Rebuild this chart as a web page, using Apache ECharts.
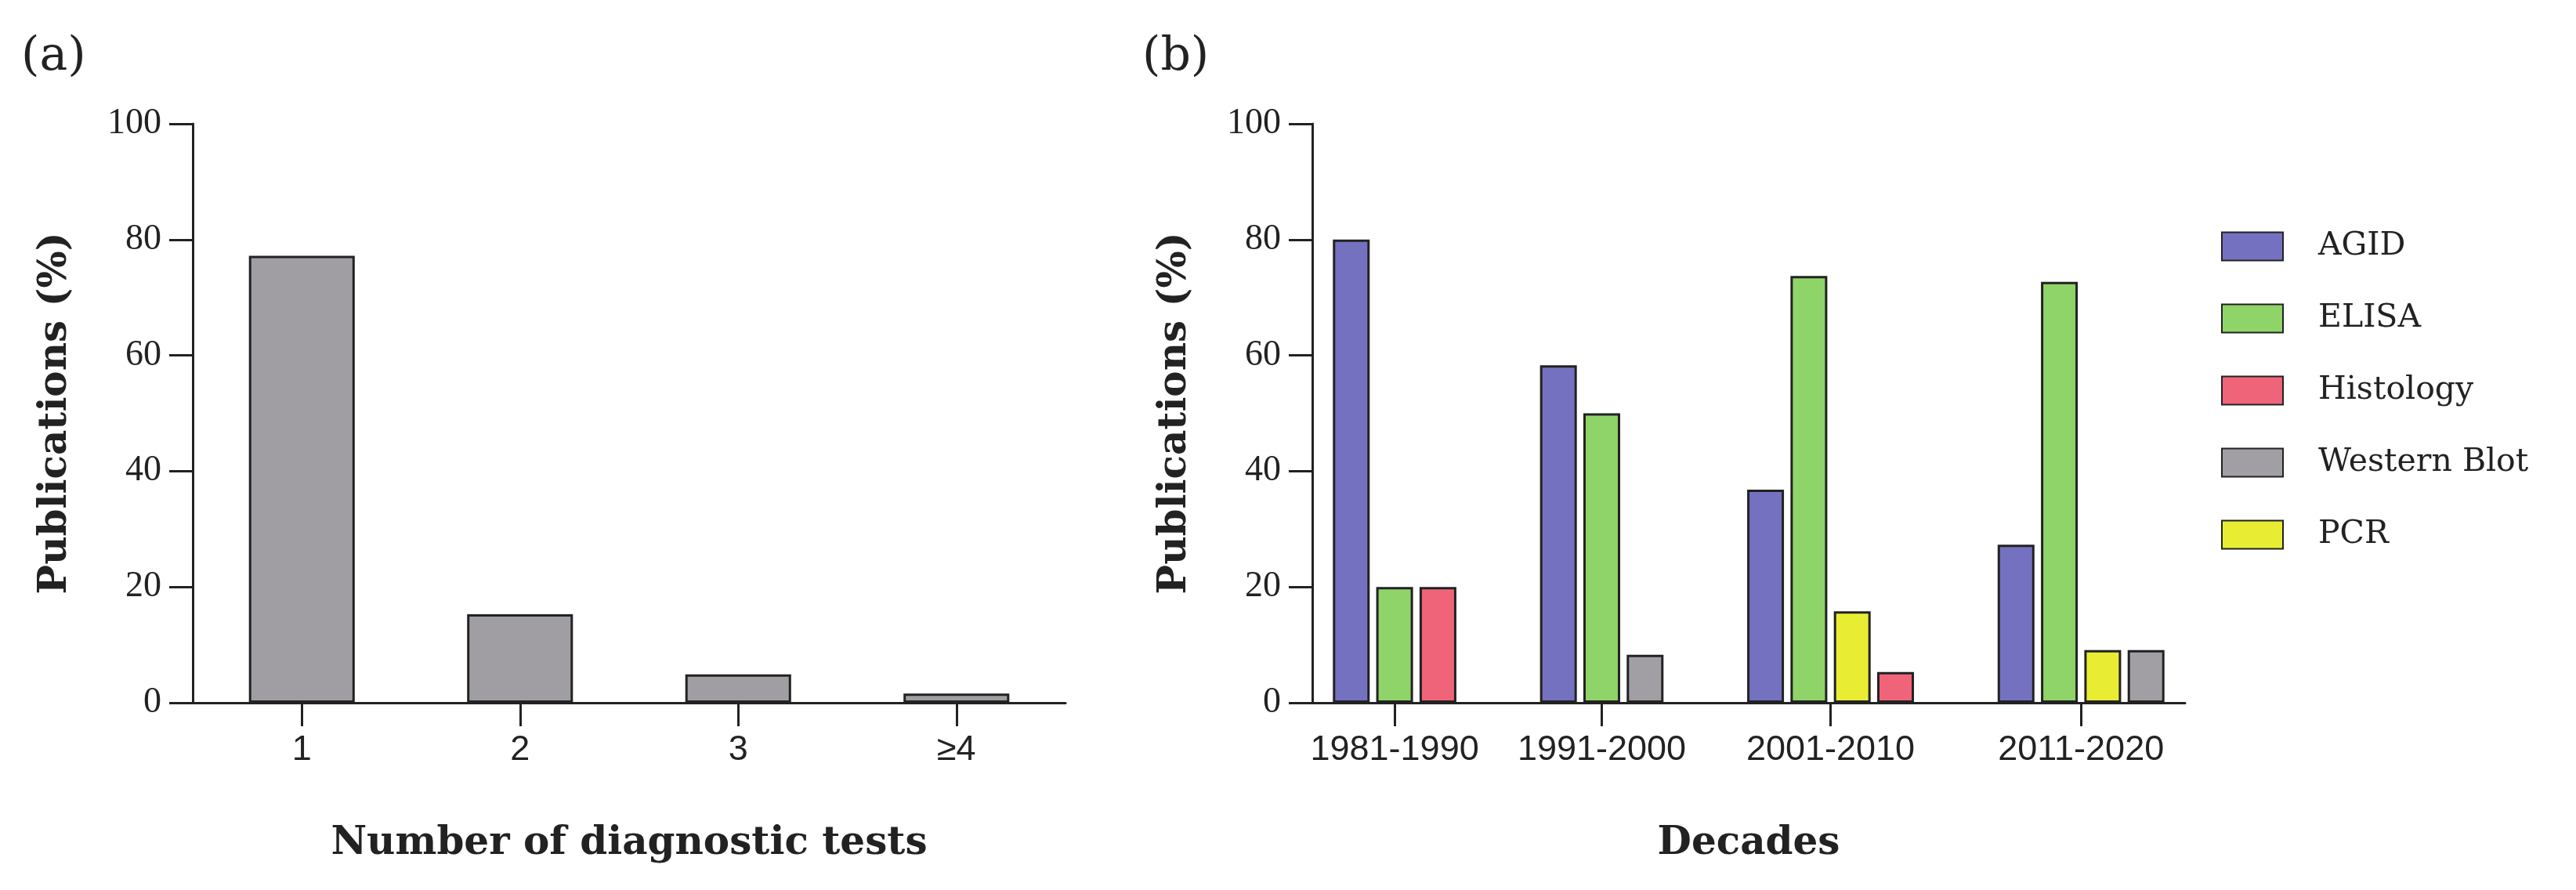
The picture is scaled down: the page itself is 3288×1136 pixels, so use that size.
<!DOCTYPE html>
<html>
<head>
<meta charset="utf-8">
<script src="https://cdn.jsdelivr.net/npm/echarts@6/dist/echarts.min.js"></script>
<style>
  html, body { margin: 0; padding: 0; background: #fff; }
  #chart { width: 3288px; height: 1136px; }
</style>
</head>
<body>
<div id="chart"></div>
<script>
// (a) share of publications by number of diagnostic tests used
const TEST_COUNTS = ["1", "2", "3", "≥4"];
const TEST_SHARE = [77.2, 15.3, 4.9, 1.6];

// (b) diagnostic method per decade, % of publications
const DECADES = ["1981-1990", "1991-2000", "2001-2010", "2011-2020"];
const METHODS = ["AGID", "ELISA", "Histology", "Western Blot", "PCR"];
const AGID = [80, 58.3, 36.8, 27.3];
const ELISA = [20, 50, 73.7, 72.7];
const HISTOLOGY = [20, 0, 5.3, 0];
const WESTERN_BLOT = [0, 8.3, 0, 9.1];
const PCR = [0, 0, 15.8, 9.1];

// order the bars are printed in inside each decade (empty ones left out)
const BAR_ORDER = [
  ["AGID", "ELISA", "Histology"],
  ["AGID", "ELISA", "Western Blot"],
  ["AGID", "ELISA", "PCR", "Histology"],
  ["AGID", "ELISA", "PCR", "Western Blot"],
];

const METHOD_VALUES = {
  "AGID": AGID,
  "ELISA": ELISA,
  "Histology": HISTOLOGY,
  "Western Blot": WESTERN_BLOT,
  "PCR": PCR,
};

const COLOR = {
  "AGID": "#7571c1",
  "ELISA": "#8fd468",
  "Histology": "#f0647a",
  "Western Blot": "#a19fa4",
  "PCR": "#e8ed33",
};

const INK = "#222";
const SERIF = "DejaVu Serif";
const GROUP_GAP = 1.78;   // extra empty slots between decade groups
const SIDE_PAD = 0.9;     // slots between axis ends and outer bars

// slot index of every bar along the (b) axis
const slot = {};
METHODS.forEach(m => { slot[m] = []; });
const groupCenter = [];
let cursor = 0;
let lastCenter = 0;
BAR_ORDER.forEach((names, d) => {
  names.forEach((m, i) => { slot[m][d] = cursor + i; });
  groupCenter.push(cursor + (names.length - 1) / 2);
  lastCenter = cursor + names.length - 1;
  cursor += names.length + GROUP_GAP;
});

function decadeLabel(value) {
  let best = 0;
  groupCenter.forEach((c, i) => {
    if (Math.abs(c - value) < Math.abs(groupCenter[best] - value)) best = i;
  });
  return DECADES[best];
}

function yAxisFor(gridIndex) {
  return {
    gridIndex,
    type: "value",
    min: 0,
    max: 100,
    interval: 20,
    name: "Publications (%)",
    nameLocation: "middle",
    nameGap: 150,
    nameTextStyle: { fontFamily: SERIF, fontWeight: "bold", fontSize: 50, color: INK },
    axisLine: { show: true, onZero: false, lineStyle: { color: INK, width: 3 } },
    axisTick: { show: true, length: 30, lineStyle: { color: INK, width: 3 } },
    axisLabel: {
      margin: 40,
      fontFamily: "Liberation Serif",
      fontSize: 46,
      color: INK,
    },
    splitLine: { show: false },
  };
}

const chart = echarts.init(document.getElementById("chart"));

const methodSeries = METHODS.map(m => ({
  name: m,
  type: "bar",
  xAxisIndex: 1,
  yAxisIndex: 1,
  barWidth: 47,
  barGap: "-100%",
  itemStyle: { color: COLOR[m], borderColor: INK, borderWidth: 3 },
  data: DECADES
    .map((d, i) => (METHOD_VALUES[m][i] > 0 ? [slot[m][i], METHOD_VALUES[m][i]] : null))
    .filter(Boolean),
}));

const panelTitle = { fontFamily: SERIF, fontWeight: "normal", fontSize: 60, color: INK };

chart.setOption({
  animation: false,
  backgroundColor: "#fff",
  title: [
    { text: "(a)", left: 22, top: 38, textStyle: panelTitle },
    { text: "(b)", left: 1453, top: 38, textStyle: panelTitle },
  ],
  legend: {
    data: METHODS,
    orient: "vertical",
    left: 2830,
    top: 289,
    itemWidth: 78,
    itemHeight: 36,
    itemGap: 51,
    icon: "rect",
    textStyle: { fontFamily: SERIF, fontSize: 41, color: INK, padding: [0, 0, 0, 40] },
  },
  grid: [
    { left: 246, top: 158, width: 1114, height: 739 },
    { left: 1675, top: 158, width: 1114, height: 739 },
  ],
  xAxis: [
    {
      gridIndex: 0,
      type: "category",
      data: TEST_COUNTS,
      name: "Number of diagnostic tests",
      nameLocation: "middle",
      nameGap: 155,
      nameTextStyle: { fontFamily: SERIF, fontWeight: "bold", fontSize: 50, color: INK },
      axisLine: { show: true, lineStyle: { color: INK, width: 3 } },
      axisTick: { show: true, alignWithLabel: true, length: 30, lineStyle: { color: INK, width: 3 } },
      axisLabel: { margin: 38, fontFamily: "Liberation Sans", fontSize: 45, color: INK },
    },
    {
      gridIndex: 1,
      type: "value",
      min: -SIDE_PAD,
      max: lastCenter + SIDE_PAD,
      name: "Decades",
      nameLocation: "middle",
      nameGap: 155,
      nameTextStyle: { fontFamily: SERIF, fontWeight: "bold", fontSize: 50, color: INK },
      axisLine: { show: true, onZero: false, lineStyle: { color: INK, width: 3 } },
      axisTick: { show: true, length: 30, customValues: groupCenter, lineStyle: { color: INK, width: 3 } },
      axisLabel: {
        margin: 38,
        customValues: groupCenter,
        formatter: v => decadeLabel(v),
        fontFamily: "Liberation Sans",
        fontSize: 45,
        color: INK,
      },
      splitLine: { show: false },
    },
  ],
  yAxis: [yAxisFor(0), yAxisFor(1)],
  series: [
    {
      name: "Publications",
      type: "bar",
      xAxisIndex: 0,
      yAxisIndex: 0,
      barWidth: "48.5%",
      itemStyle: { color: "#a09ea3", borderColor: INK, borderWidth: 3 },
      data: TEST_SHARE,
    },
    ...methodSeries,
  ],
});
</script>
</body>
</html>
